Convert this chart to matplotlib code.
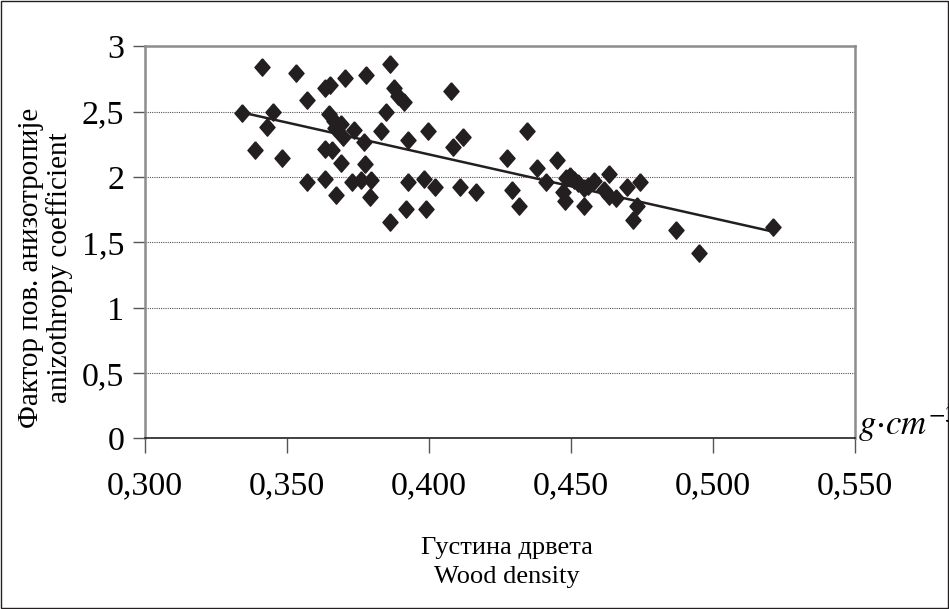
import numpy as np
import matplotlib
matplotlib.use("Agg")
import matplotlib.pyplot as plt
from matplotlib.patches import Rectangle

plt.rcParams['font.family'] = ['Liberation Serif', 'DejaVu Serif']
plt.rcParams['mathtext.fontset'] = 'stix'

# wood density (g/cm3) vs anisotropy coefficient
density = [0.3412, 0.3530, 0.3570, 0.3340, 0.3451, 0.3428, 0.3388, 0.3483, 0.3570,
           0.3863, 0.3705, 0.3777, 0.3635, 0.3653, 0.3878, 0.3890, 0.3911, 0.4077,
           0.3649, 0.3848, 0.3667, 0.3690, 0.3670, 0.3736, 0.3830, 0.3996, 0.3697,
           0.3770, 0.3927, 0.4118, 0.4085, 0.3635, 0.3660, 0.3690, 0.3776, 0.3635,
           0.3729, 0.3761, 0.3794, 0.3927, 0.3983, 0.4022, 0.4110, 0.4164, 0.3674,
           0.3791, 0.3920, 0.3991, 0.3863,
           0.4346, 0.4276, 0.4379, 0.4450, 0.4632, 0.4411, 0.4291, 0.4481, 0.4497,
           0.4511, 0.4523, 0.4581, 0.4546, 0.4558, 0.4696, 0.4743, 0.4617, 0.4634,
           0.4657, 0.4473, 0.4478, 0.4317, 0.4546, 0.4734, 0.4719, 0.4870, 0.4949,
           0.5211]
anisotropy = [2.841, 2.798, 2.594, 2.494, 2.500, 2.387, 2.208, 2.147, 1.960,
              2.862, 2.757, 2.780, 2.684, 2.703, 2.684, 2.619, 2.576, 2.657,
              2.487, 2.497, 2.433, 2.410, 2.377, 2.362, 2.351, 2.351, 2.308,
              2.272, 2.287, 2.308, 2.228, 2.216, 2.208, 2.106, 2.103, 1.989,
              1.960, 1.981, 1.981, 1.960, 1.983, 1.923, 1.922, 1.884, 1.861,
              1.851, 1.757, 1.757, 1.657,
              2.351, 2.147, 2.071, 2.129, 2.027, 1.963, 1.904, 1.994, 2.006,
              1.981, 1.956, 1.968, 1.917, 1.930, 1.923, 1.966, 1.898, 1.858,
              1.837, 1.884, 1.815, 1.776, 1.776, 1.779, 1.674, 1.598, 1.421,
              1.618]

x_ticks = [0.300, 0.350, 0.400, 0.450, 0.500, 0.550]
x_tick_labels = ['0,300', '0,350', '0,400', '0,450', '0,500', '0,550']
y_ticks = [0, 0.5, 1, 1.5, 2, 2.5, 3]
y_tick_labels = ['0', '0,5', '1', '1,5', '2', '2,5', '3']

fig = plt.figure(figsize=(9.49, 6.09), dpi=100)
ax = fig.add_axes([0.1528, 0.280, 0.7482, 0.6437])

diamond = [(0, 1), (0.87, 0), (0, -1), (-0.87, 0), (0, 1)]
ax.plot(density, anisotropy, linestyle='none', marker=diamond, markersize=12.5,
        color='#231f20', zorder=3)

# linear trend line
coef = np.polyfit(density, anisotropy, 1)
xs = np.array([min(density), max(density)])
ax.plot(xs, np.polyval(coef, xs), color='#231f20', linewidth=1.8, zorder=2)

ax.set_xlim(0.300, 0.550)
ax.set_ylim(0, 3)
ax.set_xticks(x_ticks)
ax.set_xticklabels(x_tick_labels)
ax.set_yticks(y_ticks)
ax.set_yticklabels(y_tick_labels)
ax.tick_params(axis='both', labelsize=24.5, direction='out', color='#555555', width=1)
ax.tick_params(axis='y', length=9, pad=6)
ax.tick_params(axis='x', length=11, pad=12)

for y in y_ticks[1:-1]:
    ax.axhline(y, color='#555555', linestyle=(0, (1, 1)), linewidth=0.8, zorder=1)

for side in ['left', 'top', 'right']:
    ax.spines[side].set_color('#8c8c8c')
    ax.spines[side].set_linewidth(1.8)
ax.spines['bottom'].set_color('#231f20')
ax.spines['bottom'].set_linewidth(1.2)

ax.set_xlabel('Густина дрвета\nWood density', fontsize=19, linespacing=1.42)
ax.xaxis.set_label_coords(0.51, -0.252)
ax.set_ylabel('Фактор пов. анизотропије\nanizothropy coefficient', fontsize=21,
              linespacing=1.13)
ax.yaxis.set_label_coords(-0.101, 0.435)

fig.text(858 / 949, 1 - 435 / 609, r'$g{\cdot}cm^{-3}$', fontsize=25,
         ha='left', va='baseline')

fig.patches.append(Rectangle((0.0008, 0.0012), 0.9984, 0.9976, transform=fig.transFigure,
                             fill=False, edgecolor='#231f20', linewidth=1.0))

fig.savefig('out.png', dpi=100)
